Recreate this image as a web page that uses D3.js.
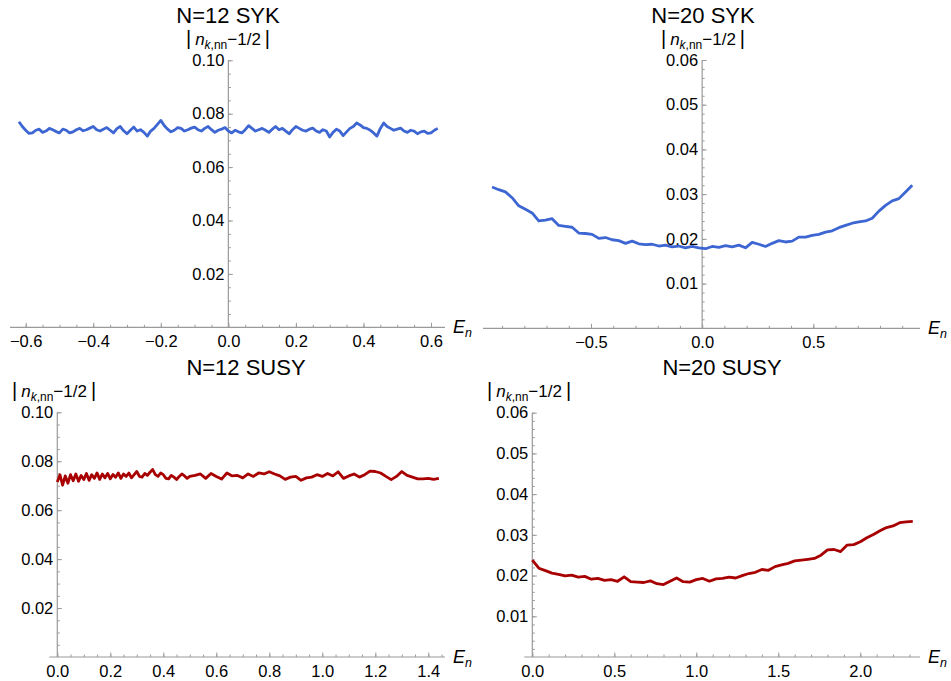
<!DOCTYPE html>
<html>
<head>
<meta charset="utf-8">
<script src="https://cdn.jsdelivr.net/npm/d3@7"></script>
<style>
body { margin: 0; background: #fff; }
svg { display: block; }
text { font-family: "Liberation Sans", Arial, Helvetica, sans-serif; }
</style>
</head>
<body>
<svg id="chart" width="951" height="681"></svg>
<script>
// N=12 SYK
var syk12E = [-0.62,-0.61,-0.60,-0.59,-0.58,-0.57,-0.56,-0.55,-0.54,-0.53,-0.52,-0.51,-0.50,-0.49,-0.48,-0.47,-0.46,-0.45,-0.44,-0.43,
    -0.42,-0.41,-0.40,-0.39,-0.38,-0.37,-0.36,-0.35,-0.34,-0.33,-0.32,-0.31,-0.30,-0.29,-0.28,-0.27,-0.26,-0.25,-0.24,-0.23,
    -0.22,-0.21,-0.20,-0.19,-0.18,-0.17,-0.16,-0.15,-0.14,-0.13,-0.12,-0.11,-0.10,-0.09,-0.08,-0.07,-0.06,-0.05,-0.04,-0.03,
    -0.02,-0.01,0.00,0.01,0.02,0.03,0.04,0.05,0.06,0.07,0.08,0.09,0.10,0.11,0.12,0.13,0.14,0.15,0.16,0.17,
    0.18,0.19,0.20,0.21,0.22,0.23,0.24,0.25,0.26,0.27,0.28,0.29,0.30,0.31,0.32,0.33,0.34,0.35,0.36,0.37,
    0.38,0.39,0.40,0.41,0.42,0.43,0.44,0.45,0.46,0.47,0.48,0.49,0.50,0.51,0.52,0.53,0.54,0.55,0.56,0.57,
    0.58,0.59,0.60,0.61,0.62];
var syk12N = [0.0770,0.0752,0.0738,0.0726,0.0728,0.0738,0.0742,0.0730,0.0735,0.0745,0.0740,0.0733,0.0728,0.0742,0.0738,0.0728,0.0732,0.0740,0.0745,0.0736,
    0.0740,0.0746,0.0752,0.0740,0.0735,0.0742,0.0748,0.0738,0.0728,0.0744,0.0752,0.0736,0.0725,0.0738,0.0750,0.0735,0.0740,0.0730,0.0716,0.0735,
    0.0745,0.0760,0.0775,0.0756,0.0742,0.0732,0.0738,0.0748,0.0745,0.0735,0.0740,0.0746,0.0750,0.0740,0.0735,0.0745,0.0752,0.0740,0.0730,0.0738,
    0.0742,0.0748,0.0735,0.0728,0.0738,0.0732,0.0728,0.0740,0.0755,0.0745,0.0735,0.0740,0.0745,0.0738,0.0730,0.0742,0.0752,0.0740,0.0745,0.0735,
    0.0725,0.0740,0.0752,0.0745,0.0738,0.0735,0.0742,0.0746,0.0735,0.0730,0.0740,0.0735,0.0713,0.0730,0.0742,0.0735,0.0718,0.0732,0.0745,0.0752,
    0.0765,0.0758,0.0748,0.0745,0.0738,0.0728,0.0716,0.0745,0.0765,0.0752,0.0745,0.0738,0.0742,0.0746,0.0735,0.0730,0.0738,0.0735,0.0725,0.0732,
    0.0735,0.0726,0.0728,0.0738,0.0745];

// N=20 SYK
var syk20E = [-0.945,-0.915,-0.885,-0.855,-0.825,-0.795,-0.765,-0.735,-0.705,-0.675,-0.645,-0.615,-0.585,-0.555,-0.525,-0.495,
    -0.465,-0.435,-0.405,-0.375,-0.345,-0.315,-0.285,-0.255,-0.225,-0.195,-0.165,-0.135,-0.105,-0.075,-0.045,-0.015,
    0.015,0.045,0.075,0.105,0.135,0.165,0.195,0.225,0.255,0.285,0.315,0.345,0.375,0.405,0.435,0.465,
    0.495,0.525,0.555,0.585,0.615,0.645,0.675,0.705,0.735,0.765,0.795,0.825,0.855,0.885,0.915,0.945];
var syk20N = [0.0316,0.0310,0.0305,0.0292,0.0274,0.0266,0.0258,0.0240,0.0242,0.0245,0.0230,0.0228,0.0226,0.0213,0.0212,0.0210,
    0.0201,0.0203,0.0198,0.0196,0.0190,0.0195,0.0189,0.0187,0.0188,0.0184,0.0186,0.0182,0.0184,0.0180,0.0183,0.0180,
    0.0178,0.0183,0.0181,0.0185,0.0182,0.0186,0.0180,0.0192,0.0188,0.0183,0.0190,0.0196,0.0193,0.0195,0.0204,0.0204,
    0.0208,0.0210,0.0215,0.0218,0.0225,0.0230,0.0235,0.0238,0.0240,0.0246,0.0262,0.0275,0.0285,0.0290,0.0305,0.0320];

// N=12 SUSY
var susy12E = [0.00,0.01,0.02,0.03,0.04,0.05,0.06,0.07,0.08,0.09,0.10,0.11,0.12,0.13,0.14,0.15,0.16,0.17,0.18,0.19,
    0.20,0.21,0.22,0.23,0.24,0.25,0.26,0.27,0.28,0.29,0.30,0.31,0.32,0.33,0.34,0.35,0.36,0.37,0.38,0.39,
    0.40,0.41,0.42,0.43,0.44,0.45,0.46,0.47,0.48,0.49,0.50,
    0.52,0.54,0.56,0.58,0.60,0.62,0.64,0.66,0.68,0.70,0.72,0.74,0.76,0.78,
    0.80,0.82,0.84,0.86,0.88,0.90,0.92,0.94,0.96,0.98,1.00,1.02,1.04,1.06,1.08,1.10,1.12,1.14,1.16,1.18,
    1.20,1.22,1.24,1.26,1.28,1.30,1.32,1.34,1.36,1.38,1.40,1.42,1.44];
var susy12N = [0.0715,0.0745,0.0702,0.0740,0.0710,0.0745,0.0720,0.0748,0.0718,0.0742,0.0725,0.0750,0.0722,0.0745,0.0730,0.0752,0.0726,0.0748,0.0732,0.0750,
    0.0728,0.0746,0.0735,0.0752,0.0730,0.0748,0.0738,0.0752,0.0732,0.0745,0.0758,0.0738,0.0735,0.0750,0.0742,0.0755,0.0766,0.0745,0.0738,0.0752,
    0.0745,0.0730,0.0728,0.0742,0.0735,0.0725,0.0738,0.0748,0.0740,0.0730,0.0738,
    0.0742,0.0748,0.0730,0.0750,0.0738,0.0727,0.0752,0.0740,0.0742,0.0732,0.0748,0.0738,0.0752,0.0748,
    0.0757,0.0748,0.0740,0.0726,0.0735,0.0738,0.0722,0.0732,0.0735,0.0745,0.0738,0.0750,0.0740,0.0757,0.0730,0.0740,0.0748,0.0735,0.0745,0.0760,
    0.0758,0.0752,0.0738,0.0725,0.0738,0.0758,0.0742,0.0735,0.0728,0.0728,0.0730,0.0726,0.0730];

// N=20 SUSY
var susy20E = [0.00,0.04,0.08,0.12,0.16,0.20,0.24,0.28,0.32,0.36,0.40,0.44,0.48,0.52,0.56,0.60,0.64,0.68,0.72,0.76,
    0.80,0.84,0.88,0.92,0.96,1.00,1.04,1.08,1.12,1.16,1.20,1.24,1.28,1.32,1.36,1.40,1.44,1.48,1.52,1.56,
    1.60,1.64,1.68,1.72,1.76,1.80,1.84,1.88,1.92,1.96,2.00,2.04,2.08,2.12,2.16,2.20,2.24,2.28,2.32];
var susy20N = [0.0238,0.0218,0.0212,0.0206,0.0203,0.0199,0.0201,0.0196,0.0198,0.0191,0.0193,0.0188,0.0190,0.0186,0.0197,0.0185,0.0184,0.0183,0.0187,0.0180,
    0.0178,0.0186,0.0194,0.0185,0.0184,0.0190,0.0193,0.0186,0.0192,0.0193,0.0196,0.0194,0.0200,0.0205,0.0208,0.0215,0.0213,0.0222,0.0226,0.0230,
    0.0236,0.0238,0.0240,0.0242,0.0250,0.0263,0.0264,0.0259,0.0275,0.0276,0.0283,0.0293,0.0301,0.0310,0.0318,0.0322,0.0330,0.0332,0.0333];

var titles = ["N=12 SYK", "N=20 SYK", "N=12 SUSY", "N=20 SUSY"];
var yTicks12 = [0.02, 0.04, 0.06, 0.08, 0.10];
var yTicks20 = [0.01, 0.02, 0.03, 0.04, 0.05, 0.06];
var xTicksSyk12 = [-0.6, -0.4, -0.2, 0.0, 0.2, 0.4, 0.6];
var xTicksSyk20 = [-0.5, 0.0, 0.5];
var xTicksSusy12 = [0.0, 0.2, 0.4, 0.6, 0.8, 1.0, 1.2, 1.4];
var xTicksSusy20 = [0.0, 0.5, 1.0, 1.5, 2.0];

var blue = "#3d66d2", red = "#a80000", axisColor = "#9a9a9a";

function minor_ticks(lo, hi, step) {
    var out = [];
    for (var i = Math.ceil(lo / step - 1e-6); i <= Math.floor(hi / step + 1e-6); i++) out.push(+(i * step).toFixed(4));
    return out;
}

function add_ylabel(g, x, y, anchor) {
    var t = g.append("text")
        .attr("x", x).attr("y", y)
        .attr("text-anchor", anchor)
        .attr("font-size", 17)
        .attr("fill", "#000");
    t.append("tspan").attr("font-size", 20).text("|");
    t.append("tspan").attr("font-style", "italic").attr("dx", 4).text("n");
    t.append("tspan").attr("font-size", 12).attr("font-style", "italic").attr("dy", 4).text("k");
    t.append("tspan").attr("font-size", 12).text(",nn");
    t.append("tspan").attr("dy", -4).text("\u22121/2");
    t.append("tspan").attr("font-size", 20).attr("dx", 4).text("|");
}

function add_xlabel(g, x, y) {
    var t = g.append("text")
        .attr("x", x).attr("y", y)
        .attr("font-size", 18)
        .attr("fill", "#000");
    t.append("tspan").attr("font-style", "italic").text("E");
    t.append("tspan").attr("font-style", "italic").attr("font-size", 12.5).attr("dy", 4).text("n");
}

function draw_panel(svg, p) {
    var x = d3.scaleLinear().domain(p.xDomain).range(p.xRange),
        y = d3.scaleLinear().domain(p.yDomain).range(p.yRange);
    var g = svg.append("g");
    var y0 = y(0), x0 = x(0);

    // minor ticks
    g.append("g")
        .attr("transform", "translate(0," + y0 + ")")
        .call(d3.axisBottom(x).tickValues(minor_ticks(x.invert(p.axisX[0]), x.invert(p.axisX[1]), p.xMinor))
            .tickSize(-2.5).tickFormat(""))
        .call(function (a) { a.select(".domain").remove(); a.selectAll("line").attr("stroke", axisColor); });
    g.append("g")
        .attr("transform", "translate(" + x0 + ",0)")
        .call(d3.axisLeft(y).tickValues(minor_ticks(0.0001, p.yDomain[1], p.yMinor)).tickSize(-2.5).tickFormat(""))
        .call(function (a) { a.select(".domain").remove(); a.selectAll("line").attr("stroke", axisColor); });

    // major ticks + labels
    g.append("g")
        .attr("transform", "translate(0," + y0 + ")")
        .call(d3.axisBottom(x).tickValues(p.xTicks).tickSize(-4.5).tickPadding(8).tickFormat(d3.format(".1f")))
        .call(function (a) {
            a.select(".domain").remove();
            a.selectAll("line").attr("stroke", axisColor);
            a.selectAll("text").attr("font-size", 16.5).attr("fill", "#000")
                .attr("font-family", "'Liberation Sans', Arial, sans-serif");
        });
    g.append("g")
        .attr("transform", "translate(" + x0 + ",0)")
        .call(d3.axisLeft(y).tickValues(p.yTicks).tickSize(-4.5).tickPadding(4).tickFormat(d3.format(".2f")))
        .call(function (a) {
            a.select(".domain").remove();
            a.selectAll("line").attr("stroke", axisColor);
            a.selectAll("text").attr("font-size", 16.5).attr("fill", "#000")
                .attr("font-family", "'Liberation Sans', Arial, sans-serif");
        });

    // axis lines
    g.append("line")
        .attr("x1", p.axisX[0]).attr("x2", p.axisX[1])
        .attr("y1", y0).attr("y2", y0)
        .attr("stroke", axisColor).attr("stroke-width", 1.2);
    g.append("line")
        .attr("x1", x0).attr("x2", x0)
        .attr("y1", y(p.yDomain[1])).attr("y2", y0)
        .attr("stroke", axisColor).attr("stroke-width", 1.2);

    // curve
    var line = d3.line()
        .x(function (d) { return x(d[0]); })
        .y(function (d) { return y(d[1]); });
    g.append("path")
        .datum(d3.zip(p.E, p.N))
        .attr("fill", "none")
        .attr("stroke", p.color)
        .attr("stroke-width", 2.8)
        .attr("stroke-linejoin", "round")
        .attr("d", line);

    g.append("text")
        .attr("x", p.titlePos[0]).attr("y", p.titlePos[1])
        .attr("text-anchor", "middle")
        .attr("font-size", 22)
        .attr("fill", "#000")
        .text(p.title);

    add_ylabel(g, p.labelPos[0], p.labelPos[1], p.labelAnchor);
    add_xlabel(g, p.axisX[1] + 8, y0 + 6);
}

var svg = d3.select("#chart");

draw_panel(svg, {
    title: titles[0], E: syk12E, N: syk12N, color: blue,
    xDomain: [-0.6, 0.6], xRange: [25.7, 431],
    yDomain: [0, 0.10], yRange: [327.3, 60.3],
    axisX: [10, 445], xTicks: xTicksSyk12, yTicks: yTicks12, xMinor: 0.05, yMinor: 0.005,
    titlePos: [228, 23], labelPos: [228, 45], labelAnchor: "middle"
});
draw_panel(svg, {
    title: titles[1], E: syk20E, N: syk20N, color: blue,
    xDomain: [-0.5, 0.5], xRange: [591, 813.3],
    yDomain: [0, 0.06], yRange: [328.3, 60],
    axisX: [483, 920], xTicks: xTicksSyk20, yTicks: yTicks20, xMinor: 0.1, yMinor: 0.002,
    titlePos: [703, 23], labelPos: [703, 45], labelAnchor: "middle"
});
draw_panel(svg, {
    title: titles[2], E: susy12E, N: susy12N, color: red,
    xDomain: [0, 1.4], xRange: [57.3, 428.3],
    yDomain: [0, 0.10], yRange: [657, 412.3],
    axisX: [49.3, 445], xTicks: xTicksSusy12, yTicks: yTicks12, xMinor: 0.05, yMinor: 0.005,
    titlePos: [246, 375], labelPos: [12, 397], labelAnchor: "start"
});
draw_panel(svg, {
    title: titles[3], E: susy20E, N: susy20N, color: red,
    xDomain: [0, 2.0], xRange: [532.3, 860.3],
    yDomain: [0, 0.06], yRange: [657, 412.7],
    axisX: [524.3, 920], xTicks: xTicksSusy20, yTicks: yTicks20, xMinor: 0.1, yMinor: 0.002,
    titlePos: [722, 375], labelPos: [487, 397], labelAnchor: "start"
});
</script>
</body>
</html>
